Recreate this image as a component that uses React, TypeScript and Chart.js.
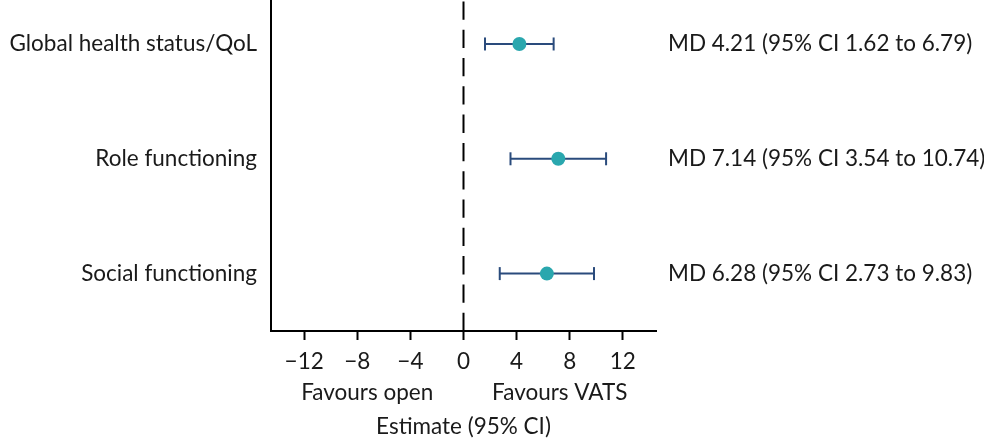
import React, { useEffect, useRef } from "react";
import { Chart, registerables } from "chart.js";

Chart.register(...registerables);

// Forest plot data: mean difference with 95% CI per outcome
const rowLabels = ["Global health status/QoL", "Role functioning", "Social functioning"];
const rowPos = [3, 2, 1];
const meanDiff = [4.21, 7.14, 6.28];
const ciLow = [1.62, 3.54, 2.73];
const ciHigh = [6.79, 10.74, 9.83];
const xTicks = [-12, -8, -4, 0, 4, 8, 12];
const sideLabels = ["Favours open", "Favours VATS"];
const axisTitle = "Estimate (95% CI)";

const TEAL = "#2aa7ae";
const NAVY = "#2a4b7c";
const INK = "#1a1a1a";
const FONT = "Lato, 'Noto Sans', sans-serif";
const FONT_SIZE = 22.5;

const fmt = (v: number) => v.toFixed(2);
const summary = (i: number) =>
  `MD ${fmt(meanDiff[i])} (95% CI ${fmt(ciLow[i])} to ${fmt(ciHigh[i])})`;

const forestText = {
  id: "forestText",
  beforeDatasetsDraw(chart: any) {
    const { ctx, chartArea, scales } = chart;
    const x0 = scales.x.getPixelForValue(0);
    ctx.save();
    ctx.strokeStyle = "#000";
    ctx.lineWidth = 2;
    ctx.setLineDash([18.3, 10]);
    ctx.beginPath();
    ctx.moveTo(x0, chartArea.bottom);
    ctx.lineTo(x0, chartArea.top);
    ctx.stroke();
    ctx.restore();
  },
  afterDraw(chart: any) {
    const { ctx, chartArea, scales } = chart;
    ctx.save();
    ctx.fillStyle = INK;
    ctx.font = `${FONT_SIZE}px ${FONT}`;
    ctx.textBaseline = "middle";
    rowLabels.forEach((label, i) => {
      const y = scales.y.getPixelForValue(rowPos[i]);
      ctx.textAlign = "right";
      ctx.fillText(label, chartArea.left - 14, y);
      ctx.textAlign = "left";
      ctx.fillText(summary(i), chartArea.right + 12, y);
    });
    const x0 = scales.x.getPixelForValue(0);
    ctx.textAlign = "center";
    ctx.fillText(sideLabels[0], (chartArea.left + x0) / 2, 393);
    ctx.fillText(sideLabels[1], (chartArea.right + x0) / 2, 393);
    ctx.restore();
  },
};

export default function App() {
  const ref = useRef<HTMLCanvasElement | null>(null);

  useEffect(() => {
    if (!ref.current) return;
    const errorBars = rowLabels.map((_, i) => ({
      type: "line" as const,
      data: [
        { x: ciLow[i], y: rowPos[i] },
        { x: ciHigh[i], y: rowPos[i] },
      ],
      showLine: true,
      borderColor: NAVY,
      borderWidth: 2,
      pointStyle: "line" as const,
      pointRotation: 90,
      pointRadius: 6.5,
      pointBorderColor: NAVY,
      pointBorderWidth: 2,
      pointBackgroundColor: NAVY,
    }));
    const chart = new Chart(ref.current, {
      type: "scatter",
      data: {
        datasets: [
          {
            data: meanDiff.map((m, i) => ({ x: m, y: rowPos[i] })),
            pointRadius: 7,
            pointBackgroundColor: TEAL,
            pointBorderWidth: 0,
            pointBorderColor: TEAL,
          },
          ...errorBars,
        ] as any,
      },
      options: {
        responsive: false,
        animation: false,
        layout: { autoPadding: false, padding: { left: 271, right: 328, top: 0, bottom: 0 } },
        plugins: { legend: { display: false }, tooltip: { enabled: false } },
        scales: {
          x: {
            type: "linear",
            min: -14.5,
            max: 14.5,
            afterBuildTicks: (scale: any) => {
              scale.ticks = xTicks.map((v) => ({ value: v }));
            },
            afterFit: (scale: any) => {
              scale.height = 107;
            },
            grid: {
              drawOnChartArea: false,
              drawTicks: true,
              tickLength: 9,
              tickWidth: 2,
              tickColor: "#000",
            },
            border: { display: true, color: "#000", width: 2 },
            ticks: {
              color: INK,
              font: { family: FONT, size: FONT_SIZE },
              padding: 8,
              maxRotation: 0,
              autoSkip: false,
              callback: (v: any) => (Number(v) < 0 ? "\u2212" + Math.abs(Number(v)) : String(v)),
            },
            title: {
              display: true,
              text: axisTitle,
              color: INK,
              font: { family: FONT, size: FONT_SIZE, lineHeight: 1 },
              padding: { top: 0, bottom: 0 },
            },
          },
          y: {
            type: "linear",
            min: 0.5,
            max: 3.383,
            afterFit: (scale: any) => {
              scale.width = 0;
            },
            grid: { drawOnChartArea: false, drawTicks: false },
            border: { display: true, color: "#000", width: 2 },
            ticks: { display: false },
          },
        },
      },
      plugins: [forestText],
    });
    return () => chart.destroy();
  }, []);

  return (
    <div style={{ position: "fixed", left: 0, top: 0, width: 984, height: 438, background: "#fff" }}>
      <canvas ref={ref} width={984} height={438} style={{ display: "block" }} />
    </div>
  );
}
